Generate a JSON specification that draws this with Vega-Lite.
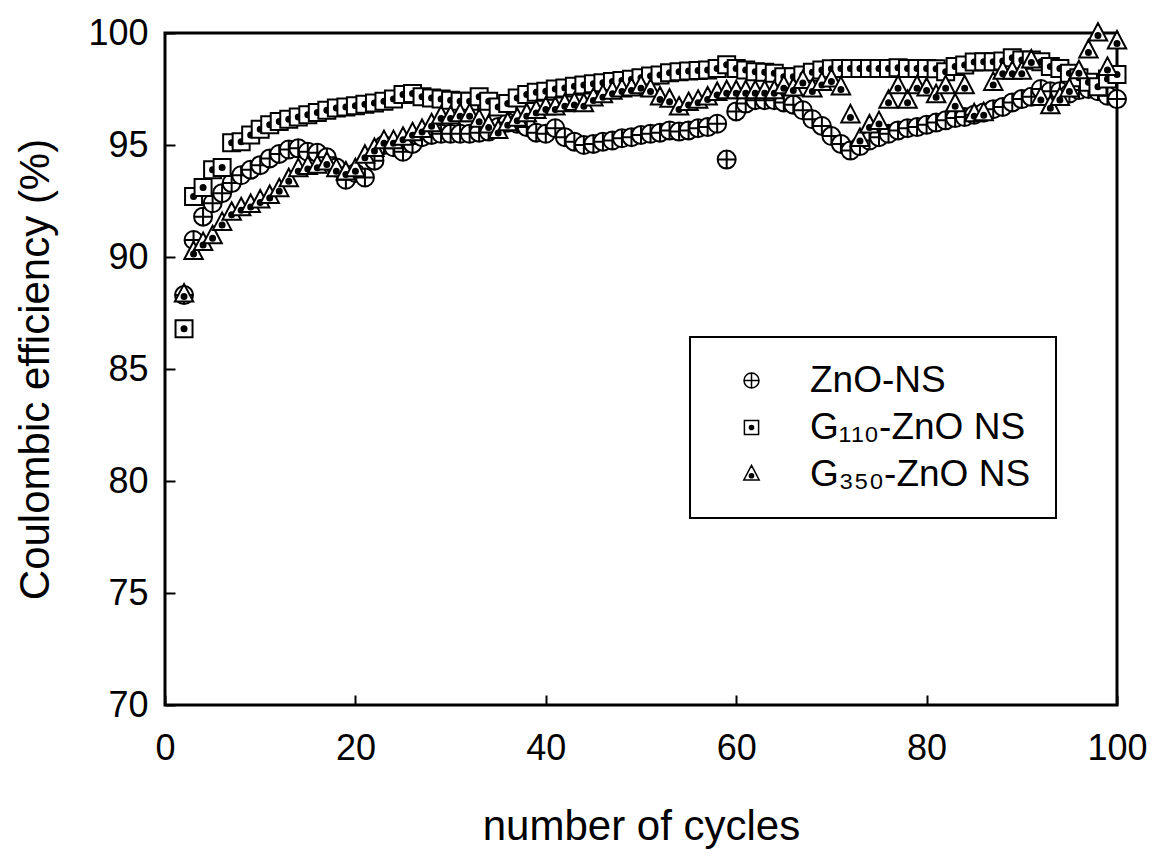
{
"$schema": "https://vega.github.io/schema/vega-lite/v6.json",
"width": 952, "height": 672,
"autosize": "none",
"padding": {"left": 165, "top": 33, "right": 47, "bottom": 150},
"background": "white",
"config": {
  "font": "Liberation Sans",
  "view": {"stroke": "black", "strokeWidth": 3},
  "axis": {"grid": false, "domain": false, "tickColor": "black", "tickWidth": 2, "tickSize": -10,
           "labelColor": "black", "labelFontSize": 36, "titleFontSize": 42, "titleFontWeight": "normal", "titleColor": "black",
           "labelFont": "Liberation Sans", "titleFont": "Liberation Sans"},
  "legend": {"strokeColor": "black", "strokeWidth": 2, "padding": 25, "labelFontSize": 37, "labelFont": "Liberation Sans", "labelColor": "black", "labelLimit": 500,
             "symbolSize": 278, "symbolOffset": 18, "labelOffset": 40, "rowPadding": 9}
},
"data": {"values": [
{"series":"ZnO-NS","cycle":2,"ce":88.3},{"series":"ZnO-NS","cycle":3,"ce":90.76},{"series":"ZnO-NS","cycle":4,"ce":91.8},{"series":"ZnO-NS","cycle":5,"ce":92.4},{"series":"ZnO-NS","cycle":6,"ce":92.85},{"series":"ZnO-NS","cycle":7,"ce":93.3},{"series":"ZnO-NS","cycle":8,"ce":93.65},{"series":"ZnO-NS","cycle":9,"ce":93.9},{"series":"ZnO-NS","cycle":10,"ce":94.1},{"series":"ZnO-NS","cycle":11,"ce":94.4},{"series":"ZnO-NS","cycle":12,"ce":94.6},{"series":"ZnO-NS","cycle":13,"ce":94.8},{"series":"ZnO-NS","cycle":14,"ce":94.85},{"series":"ZnO-NS","cycle":15,"ce":94.7},{"series":"ZnO-NS","cycle":16,"ce":94.65},{"series":"ZnO-NS","cycle":17,"ce":94.45},{"series":"ZnO-NS","cycle":18,"ce":94.0},{"series":"ZnO-NS","cycle":19,"ce":93.45},{"series":"ZnO-NS","cycle":20,"ce":93.75},{"series":"ZnO-NS","cycle":21,"ce":93.55},{"series":"ZnO-NS","cycle":22,"ce":94.3},{"series":"ZnO-NS","cycle":23,"ce":95.0},{"series":"ZnO-NS","cycle":24,"ce":94.9},{"series":"ZnO-NS","cycle":25,"ce":94.7},{"series":"ZnO-NS","cycle":26,"ce":95.05},{"series":"ZnO-NS","cycle":27,"ce":95.35},{"series":"ZnO-NS","cycle":28,"ce":95.45},{"series":"ZnO-NS","cycle":29,"ce":95.5},{"series":"ZnO-NS","cycle":30,"ce":95.5},{"series":"ZnO-NS","cycle":31,"ce":95.5},{"series":"ZnO-NS","cycle":32,"ce":95.5},{"series":"ZnO-NS","cycle":33,"ce":95.55},{"series":"ZnO-NS","cycle":34,"ce":95.6},{"series":"ZnO-NS","cycle":35,"ce":95.8},{"series":"ZnO-NS","cycle":36,"ce":96.0},{"series":"ZnO-NS","cycle":37,"ce":95.95},{"series":"ZnO-NS","cycle":38,"ce":95.8},{"series":"ZnO-NS","cycle":39,"ce":95.55},{"series":"ZnO-NS","cycle":40,"ce":95.5},{"series":"ZnO-NS","cycle":41,"ce":95.75},{"series":"ZnO-NS","cycle":42,"ce":95.35},{"series":"ZnO-NS","cycle":43,"ce":95.15},{"series":"ZnO-NS","cycle":44,"ce":95.0},{"series":"ZnO-NS","cycle":45,"ce":95.05},{"series":"ZnO-NS","cycle":46,"ce":95.15},{"series":"ZnO-NS","cycle":47,"ce":95.2},{"series":"ZnO-NS","cycle":48,"ce":95.3},{"series":"ZnO-NS","cycle":49,"ce":95.35},{"series":"ZnO-NS","cycle":50,"ce":95.45},{"series":"ZnO-NS","cycle":51,"ce":95.5},{"series":"ZnO-NS","cycle":52,"ce":95.55},{"series":"ZnO-NS","cycle":53,"ce":95.65},{"series":"ZnO-NS","cycle":54,"ce":95.6},{"series":"ZnO-NS","cycle":55,"ce":95.65},{"series":"ZnO-NS","cycle":56,"ce":95.75},{"series":"ZnO-NS","cycle":57,"ce":95.8},{"series":"ZnO-NS","cycle":58,"ce":95.95},{"series":"ZnO-NS","cycle":59,"ce":94.35},{"series":"ZnO-NS","cycle":60,"ce":96.5},{"series":"ZnO-NS","cycle":61,"ce":96.85},{"series":"ZnO-NS","cycle":62,"ce":97.0},{"series":"ZnO-NS","cycle":63,"ce":97.0},{"series":"ZnO-NS","cycle":64,"ce":97.0},{"series":"ZnO-NS","cycle":65,"ce":96.9},{"series":"ZnO-NS","cycle":66,"ce":96.8},{"series":"ZnO-NS","cycle":67,"ce":96.55},{"series":"ZnO-NS","cycle":68,"ce":96.15},{"series":"ZnO-NS","cycle":69,"ce":95.85},{"series":"ZnO-NS","cycle":70,"ce":95.4},{"series":"ZnO-NS","cycle":71,"ce":95.05},{"series":"ZnO-NS","cycle":72,"ce":94.75},{"series":"ZnO-NS","cycle":73,"ce":94.95},{"series":"ZnO-NS","cycle":74,"ce":95.2},{"series":"ZnO-NS","cycle":75,"ce":95.35},{"series":"ZnO-NS","cycle":76,"ce":95.5},{"series":"ZnO-NS","cycle":77,"ce":95.65},{"series":"ZnO-NS","cycle":78,"ce":95.75},{"series":"ZnO-NS","cycle":79,"ce":95.8},{"series":"ZnO-NS","cycle":80,"ce":95.9},{"series":"ZnO-NS","cycle":81,"ce":96.0},{"series":"ZnO-NS","cycle":82,"ce":96.1},{"series":"ZnO-NS","cycle":83,"ce":96.2},{"series":"ZnO-NS","cycle":84,"ce":96.25},{"series":"ZnO-NS","cycle":85,"ce":96.35},{"series":"ZnO-NS","cycle":86,"ce":96.45},{"series":"ZnO-NS","cycle":87,"ce":96.6},{"series":"ZnO-NS","cycle":88,"ce":96.7},{"series":"ZnO-NS","cycle":89,"ce":96.9},{"series":"ZnO-NS","cycle":90,"ce":97.05},{"series":"ZnO-NS","cycle":91,"ce":97.15},{"series":"ZnO-NS","cycle":92,"ce":97.5},{"series":"ZnO-NS","cycle":93,"ce":97.4},{"series":"ZnO-NS","cycle":94,"ce":97.4},{"series":"ZnO-NS","cycle":95,"ce":97.3},{"series":"ZnO-NS","cycle":96,"ce":97.45},{"series":"ZnO-NS","cycle":97,"ce":97.5},{"series":"ZnO-NS","cycle":98,"ce":97.4},{"series":"ZnO-NS","cycle":99,"ce":97.2},{"series":"ZnO-NS","cycle":100,"ce":97.05},
{"series":"G₁₁₀-ZnO NS","cycle":2,"ce":86.8},{"series":"G₁₁₀-ZnO NS","cycle":3,"ce":92.7},{"series":"G₁₁₀-ZnO NS","cycle":4,"ce":93.1},{"series":"G₁₁₀-ZnO NS","cycle":5,"ce":93.9},{"series":"G₁₁₀-ZnO NS","cycle":6,"ce":94.0},{"series":"G₁₁₀-ZnO NS","cycle":7,"ce":95.1},{"series":"G₁₁₀-ZnO NS","cycle":8,"ce":95.15},{"series":"G₁₁₀-ZnO NS","cycle":9,"ce":95.45},{"series":"G₁₁₀-ZnO NS","cycle":10,"ce":95.7},{"series":"G₁₁₀-ZnO NS","cycle":11,"ce":95.9},{"series":"G₁₁₀-ZnO NS","cycle":12,"ce":96.05},{"series":"G₁₁₀-ZnO NS","cycle":13,"ce":96.15},{"series":"G₁₁₀-ZnO NS","cycle":14,"ce":96.25},{"series":"G₁₁₀-ZnO NS","cycle":15,"ce":96.35},{"series":"G₁₁₀-ZnO NS","cycle":16,"ce":96.45},{"series":"G₁₁₀-ZnO NS","cycle":17,"ce":96.55},{"series":"G₁₁₀-ZnO NS","cycle":18,"ce":96.65},{"series":"G₁₁₀-ZnO NS","cycle":19,"ce":96.7},{"series":"G₁₁₀-ZnO NS","cycle":20,"ce":96.75},{"series":"G₁₁₀-ZnO NS","cycle":21,"ce":96.82},{"series":"G₁₁₀-ZnO NS","cycle":22,"ce":96.88},{"series":"G₁₁₀-ZnO NS","cycle":23,"ce":96.95},{"series":"G₁₁₀-ZnO NS","cycle":24,"ce":97.05},{"series":"G₁₁₀-ZnO NS","cycle":25,"ce":97.25},{"series":"G₁₁₀-ZnO NS","cycle":26,"ce":97.3},{"series":"G₁₁₀-ZnO NS","cycle":27,"ce":97.15},{"series":"G₁₁₀-ZnO NS","cycle":28,"ce":97.1},{"series":"G₁₁₀-ZnO NS","cycle":29,"ce":97.05},{"series":"G₁₁₀-ZnO NS","cycle":30,"ce":97.0},{"series":"G₁₁₀-ZnO NS","cycle":31,"ce":96.95},{"series":"G₁₁₀-ZnO NS","cycle":32,"ce":96.95},{"series":"G₁₁₀-ZnO NS","cycle":33,"ce":97.15},{"series":"G₁₁₀-ZnO NS","cycle":34,"ce":96.95},{"series":"G₁₁₀-ZnO NS","cycle":35,"ce":96.7},{"series":"G₁₁₀-ZnO NS","cycle":36,"ce":96.85},{"series":"G₁₁₀-ZnO NS","cycle":37,"ce":97.1},{"series":"G₁₁₀-ZnO NS","cycle":38,"ce":97.25},{"series":"G₁₁₀-ZnO NS","cycle":39,"ce":97.35},{"series":"G₁₁₀-ZnO NS","cycle":40,"ce":97.4},{"series":"G₁₁₀-ZnO NS","cycle":41,"ce":97.5},{"series":"G₁₁₀-ZnO NS","cycle":42,"ce":97.55},{"series":"G₁₁₀-ZnO NS","cycle":43,"ce":97.62},{"series":"G₁₁₀-ZnO NS","cycle":44,"ce":97.68},{"series":"G₁₁₀-ZnO NS","cycle":45,"ce":97.73},{"series":"G₁₁₀-ZnO NS","cycle":46,"ce":97.78},{"series":"G₁₁₀-ZnO NS","cycle":47,"ce":97.83},{"series":"G₁₁₀-ZnO NS","cycle":48,"ce":97.88},{"series":"G₁₁₀-ZnO NS","cycle":49,"ce":97.93},{"series":"G₁₁₀-ZnO NS","cycle":50,"ce":98.0},{"series":"G₁₁₀-ZnO NS","cycle":51,"ce":98.08},{"series":"G₁₁₀-ZnO NS","cycle":52,"ce":98.13},{"series":"G₁₁₀-ZnO NS","cycle":53,"ce":98.22},{"series":"G₁₁₀-ZnO NS","cycle":54,"ce":98.27},{"series":"G₁₁₀-ZnO NS","cycle":55,"ce":98.3},{"series":"G₁₁₀-ZnO NS","cycle":56,"ce":98.33},{"series":"G₁₁₀-ZnO NS","cycle":57,"ce":98.35},{"series":"G₁₁₀-ZnO NS","cycle":58,"ce":98.42},{"series":"G₁₁₀-ZnO NS","cycle":59,"ce":98.58},{"series":"G₁₁₀-ZnO NS","cycle":60,"ce":98.42},{"series":"G₁₁₀-ZnO NS","cycle":61,"ce":98.35},{"series":"G₁₁₀-ZnO NS","cycle":62,"ce":98.27},{"series":"G₁₁₀-ZnO NS","cycle":63,"ce":98.25},{"series":"G₁₁₀-ZnO NS","cycle":64,"ce":98.2},{"series":"G₁₁₀-ZnO NS","cycle":65,"ce":98.05},{"series":"G₁₁₀-ZnO NS","cycle":66,"ce":98.05},{"series":"G₁₁₀-ZnO NS","cycle":67,"ce":98.12},{"series":"G₁₁₀-ZnO NS","cycle":68,"ce":98.25},{"series":"G₁₁₀-ZnO NS","cycle":69,"ce":98.35},{"series":"G₁₁₀-ZnO NS","cycle":70,"ce":98.4},{"series":"G₁₁₀-ZnO NS","cycle":71,"ce":98.42},{"series":"G₁₁₀-ZnO NS","cycle":72,"ce":98.42},{"series":"G₁₁₀-ZnO NS","cycle":73,"ce":98.42},{"series":"G₁₁₀-ZnO NS","cycle":74,"ce":98.42},{"series":"G₁₁₀-ZnO NS","cycle":75,"ce":98.42},{"series":"G₁₁₀-ZnO NS","cycle":76,"ce":98.42},{"series":"G₁₁₀-ZnO NS","cycle":77,"ce":98.45},{"series":"G₁₁₀-ZnO NS","cycle":78,"ce":98.42},{"series":"G₁₁₀-ZnO NS","cycle":79,"ce":98.42},{"series":"G₁₁₀-ZnO NS","cycle":80,"ce":98.42},{"series":"G₁₁₀-ZnO NS","cycle":81,"ce":98.4},{"series":"G₁₁₀-ZnO NS","cycle":82,"ce":98.27},{"series":"G₁₁₀-ZnO NS","cycle":83,"ce":98.5},{"series":"G₁₁₀-ZnO NS","cycle":84,"ce":98.57},{"series":"G₁₁₀-ZnO NS","cycle":85,"ce":98.7},{"series":"G₁₁₀-ZnO NS","cycle":86,"ce":98.72},{"series":"G₁₁₀-ZnO NS","cycle":87,"ce":98.72},{"series":"G₁₁₀-ZnO NS","cycle":88,"ce":98.75},{"series":"G₁₁₀-ZnO NS","cycle":89,"ce":98.9},{"series":"G₁₁₀-ZnO NS","cycle":90,"ce":98.8},{"series":"G₁₁₀-ZnO NS","cycle":91,"ce":98.8},{"series":"G₁₁₀-ZnO NS","cycle":92,"ce":98.72},{"series":"G₁₁₀-ZnO NS","cycle":93,"ce":98.5},{"series":"G₁₁₀-ZnO NS","cycle":94,"ce":98.42},{"series":"G₁₁₀-ZnO NS","cycle":95,"ce":98.2},{"series":"G₁₁₀-ZnO NS","cycle":96,"ce":98.0},{"series":"G₁₁₀-ZnO NS","cycle":97,"ce":97.8},{"series":"G₁₁₀-ZnO NS","cycle":98,"ce":97.6},{"series":"G₁₁₀-ZnO NS","cycle":99,"ce":97.95},{"series":"G₁₁₀-ZnO NS","cycle":100,"ce":98.15},
{"series":"G₃₅₀-ZnO NS","cycle":2,"ce":88.3},{"series":"G₃₅₀-ZnO NS","cycle":3,"ce":90.2},{"series":"G₃₅₀-ZnO NS","cycle":4,"ce":90.6},{"series":"G₃₅₀-ZnO NS","cycle":5,"ce":90.9},{"series":"G₃₅₀-ZnO NS","cycle":6,"ce":91.5},{"series":"G₃₅₀-ZnO NS","cycle":7,"ce":91.95},{"series":"G₃₅₀-ZnO NS","cycle":8,"ce":92.15},{"series":"G₃₅₀-ZnO NS","cycle":9,"ce":92.3},{"series":"G₃₅₀-ZnO NS","cycle":10,"ce":92.5},{"series":"G₃₅₀-ZnO NS","cycle":11,"ce":92.7},{"series":"G₃₅₀-ZnO NS","cycle":12,"ce":93.0},{"series":"G₃₅₀-ZnO NS","cycle":13,"ce":93.45},{"series":"G₃₅₀-ZnO NS","cycle":14,"ce":93.9},{"series":"G₃₅₀-ZnO NS","cycle":15,"ce":94.0},{"series":"G₃₅₀-ZnO NS","cycle":16,"ce":94.05},{"series":"G₃₅₀-ZnO NS","cycle":17,"ce":94.2},{"series":"G₃₅₀-ZnO NS","cycle":18,"ce":93.9},{"series":"G₃₅₀-ZnO NS","cycle":19,"ce":93.75},{"series":"G₃₅₀-ZnO NS","cycle":20,"ce":93.9},{"series":"G₃₅₀-ZnO NS","cycle":21,"ce":94.5},{"series":"G₃₅₀-ZnO NS","cycle":22,"ce":94.8},{"series":"G₃₅₀-ZnO NS","cycle":23,"ce":95.15},{"series":"G₃₅₀-ZnO NS","cycle":24,"ce":95.15},{"series":"G₃₅₀-ZnO NS","cycle":25,"ce":95.3},{"series":"G₃₅₀-ZnO NS","cycle":26,"ce":95.5},{"series":"G₃₅₀-ZnO NS","cycle":27,"ce":95.65},{"series":"G₃₅₀-ZnO NS","cycle":28,"ce":95.9},{"series":"G₃₅₀-ZnO NS","cycle":29,"ce":96.25},{"series":"G₃₅₀-ZnO NS","cycle":30,"ce":96.25},{"series":"G₃₅₀-ZnO NS","cycle":31,"ce":96.35},{"series":"G₃₅₀-ZnO NS","cycle":32,"ce":96.35},{"series":"G₃₅₀-ZnO NS","cycle":33,"ce":96.1},{"series":"G₃₅₀-ZnO NS","cycle":34,"ce":95.85},{"series":"G₃₅₀-ZnO NS","cycle":35,"ce":95.6},{"series":"G₃₅₀-ZnO NS","cycle":36,"ce":95.95},{"series":"G₃₅₀-ZnO NS","cycle":37,"ce":96.15},{"series":"G₃₅₀-ZnO NS","cycle":38,"ce":96.35},{"series":"G₃₅₀-ZnO NS","cycle":39,"ce":96.5},{"series":"G₃₅₀-ZnO NS","cycle":40,"ce":96.65},{"series":"G₃₅₀-ZnO NS","cycle":41,"ce":96.65},{"series":"G₃₅₀-ZnO NS","cycle":42,"ce":96.8},{"series":"G₃₅₀-ZnO NS","cycle":43,"ce":96.85},{"series":"G₃₅₀-ZnO NS","cycle":44,"ce":96.8},{"series":"G₃₅₀-ZnO NS","cycle":45,"ce":97.05},{"series":"G₃₅₀-ZnO NS","cycle":46,"ce":97.2},{"series":"G₃₅₀-ZnO NS","cycle":47,"ce":97.35},{"series":"G₃₅₀-ZnO NS","cycle":48,"ce":97.45},{"series":"G₃₅₀-ZnO NS","cycle":49,"ce":97.5},{"series":"G₃₅₀-ZnO NS","cycle":50,"ce":97.6},{"series":"G₃₅₀-ZnO NS","cycle":51,"ce":97.45},{"series":"G₃₅₀-ZnO NS","cycle":52,"ce":97.1},{"series":"G₃₅₀-ZnO NS","cycle":53,"ce":97.0},{"series":"G₃₅₀-ZnO NS","cycle":54,"ce":96.65},{"series":"G₃₅₀-ZnO NS","cycle":55,"ce":96.85},{"series":"G₃₅₀-ZnO NS","cycle":56,"ce":96.95},{"series":"G₃₅₀-ZnO NS","cycle":57,"ce":97.1},{"series":"G₃₅₀-ZnO NS","cycle":58,"ce":97.3},{"series":"G₃₅₀-ZnO NS","cycle":59,"ce":97.38},{"series":"G₃₅₀-ZnO NS","cycle":60,"ce":97.38},{"series":"G₃₅₀-ZnO NS","cycle":61,"ce":97.38},{"series":"G₃₅₀-ZnO NS","cycle":62,"ce":97.38},{"series":"G₃₅₀-ZnO NS","cycle":63,"ce":97.38},{"series":"G₃₅₀-ZnO NS","cycle":64,"ce":97.38},{"series":"G₃₅₀-ZnO NS","cycle":65,"ce":97.6},{"series":"G₃₅₀-ZnO NS","cycle":66,"ce":97.5},{"series":"G₃₅₀-ZnO NS","cycle":67,"ce":97.83},{"series":"G₃₅₀-ZnO NS","cycle":68,"ce":97.46},{"series":"G₃₅₀-ZnO NS","cycle":69,"ce":97.75},{"series":"G₃₅₀-ZnO NS","cycle":70,"ce":97.9},{"series":"G₃₅₀-ZnO NS","cycle":71,"ce":97.55},{"series":"G₃₅₀-ZnO NS","cycle":72,"ce":96.3},{"series":"G₃₅₀-ZnO NS","cycle":73,"ce":95.25},{"series":"G₃₅₀-ZnO NS","cycle":74,"ce":95.85},{"series":"G₃₅₀-ZnO NS","cycle":75,"ce":96.0},{"series":"G₃₅₀-ZnO NS","cycle":76,"ce":96.95},{"series":"G₃₅₀-ZnO NS","cycle":77,"ce":97.6},{"series":"G₃₅₀-ZnO NS","cycle":78,"ce":96.95},{"series":"G₃₅₀-ZnO NS","cycle":79,"ce":97.6},{"series":"G₃₅₀-ZnO NS","cycle":80,"ce":97.5},{"series":"G₃₅₀-ZnO NS","cycle":81,"ce":97.2},{"series":"G₃₅₀-ZnO NS","cycle":82,"ce":97.6},{"series":"G₃₅₀-ZnO NS","cycle":83,"ce":96.8},{"series":"G₃₅₀-ZnO NS","cycle":84,"ce":97.6},{"series":"G₃₅₀-ZnO NS","cycle":85,"ce":96.35},{"series":"G₃₅₀-ZnO NS","cycle":86,"ce":96.4},{"series":"G₃₅₀-ZnO NS","cycle":87,"ce":97.75},{"series":"G₃₅₀-ZnO NS","cycle":88,"ce":98.25},{"series":"G₃₅₀-ZnO NS","cycle":89,"ce":98.25},{"series":"G₃₅₀-ZnO NS","cycle":90,"ce":98.25},{"series":"G₃₅₀-ZnO NS","cycle":91,"ce":98.75},{"series":"G₃₅₀-ZnO NS","cycle":92,"ce":97.08},{"series":"G₃₅₀-ZnO NS","cycle":93,"ce":96.71},{"series":"G₃₅₀-ZnO NS","cycle":94,"ce":97.08},{"series":"G₃₅₀-ZnO NS","cycle":95,"ce":97.46},{"series":"G₃₅₀-ZnO NS","cycle":96,"ce":98.27},{"series":"G₃₅₀-ZnO NS","cycle":97,"ce":99.2},{"series":"G₃₅₀-ZnO NS","cycle":98,"ce":99.95},{"series":"G₃₅₀-ZnO NS","cycle":99,"ce":98.42},{"series":"G₃₅₀-ZnO NS","cycle":100,"ce":99.6}
]},
"mark": {"type": "point", "filled": true, "fill": "white", "stroke": "black", "strokeWidth": 2, "size": 400, "opacity": 1, "fillOpacity": 1, "strokeOpacity": 1},
"encoding": {
  "x": {"field": "cycle", "type": "quantitative", "scale": {"domain": [0, 100], "nice": false},
        "axis": {"values": [0, 20, 40, 60, 80, 100], "title": "number of cycles", "labelPadding": 36, "titlePadding": 40, "labelFlush": false}},
  "y": {"field": "ce", "type": "quantitative", "scale": {"domain": [70, 100], "nice": false, "zero": false},
        "axis": {"values": [70, 75, 80, 85, 90, 95, 100], "title": "Coulombic efficiency (%)", "labelPadding": 27, "titlePadding": 30, "labelFlush": false}},
  "shape": {"field": "series", "type": "nominal",
    "scale": {"domain": ["ZnO-NS", "G₁₁₀-ZnO NS", "G₃₅₀-ZnO NS"],
              "range": ["M0.9,0A0.9,0.9,0,1,1,-0.9,0A0.9,0.9,0,1,1,0.9,0ZM-0.9,0L0.9,0M0,-0.9L0,0.9",
                        "M-0.85,-0.85L0.85,-0.85L0.85,0.85L-0.85,0.85ZM0.25,0A0.25,0.25,0,1,1,-0.25,0A0.25,0.25,0,1,1,0.25,0ZM0.1,0A0.1,0.1,0,1,1,-0.1,0A0.1,0.1,0,1,1,0.1,0Z",
                        "M0,-1.1L0.92,0.65L-0.92,0.65ZM0.25,0.15A0.25,0.25,0,1,1,-0.25,0.15A0.25,0.25,0,1,1,0.25,0.15ZM0.1,0.15A0.1,0.1,0,1,1,-0.1,0.15A0.1,0.1,0,1,1,0.1,0.15Z"]},
    "legend": {"title": null, "orient": "none", "legendX": 525, "legendY": 304}}
}
}
